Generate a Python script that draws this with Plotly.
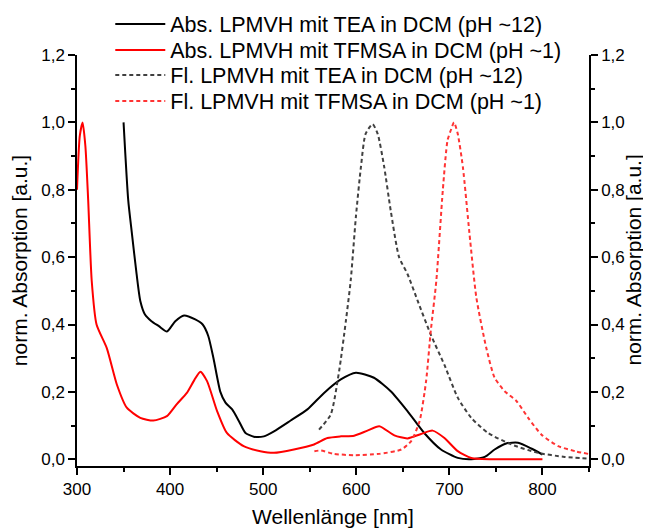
import plotly.graph_objects as go

# Abs. LPMVH mit TEA in DCM (pH ~12)
abs_tea_x = [350, 355, 359, 364, 368, 373, 380, 388, 396.6, 405.6, 415, 427, 435, 441, 446.6, 454, 459.5,
             466.7, 474, 481, 490, 500.8, 511.6, 529.5, 547.5, 565.4, 583.4, 599.6, 619, 637, 655, 673,
             691, 709, 723.5, 738, 748.6, 761, 773.8, 788, 800]
abs_tea_y = [1.0, 0.77, 0.67, 0.55, 0.47, 0.43, 0.41, 0.395, 0.379, 0.41, 0.427, 0.415, 0.40, 0.366, 0.30,
             0.20, 0.168, 0.148, 0.113, 0.078, 0.067, 0.068, 0.083, 0.115, 0.148, 0.197, 0.237, 0.257,
             0.242, 0.202, 0.143, 0.078, 0.029, 0.004, 0.0, 0.007, 0.029, 0.047, 0.049, 0.032, 0.014]

# Abs. LPMVH mit TFMSA in DCM (pH ~1)
abs_tfmsa_x = [300, 303, 306, 309, 312, 315.8, 321, 332, 342.8, 353.5, 368, 382, 396.6, 407, 418, 426,
               432.5, 439.7, 450.5, 461, 479, 497, 511.6, 533, 554.6, 569, 583.4, 597.7, 612, 624.7,
               640.9, 655, 669.6, 682, 694.7, 709, 723.5, 752, 800]
abs_tfmsa_y = [0.80, 0.96, 1.0, 0.93, 0.77, 0.53, 0.40, 0.33, 0.222, 0.153, 0.123, 0.115, 0.128, 0.163,
               0.197, 0.235, 0.26, 0.232, 0.143, 0.078, 0.039, 0.024, 0.019, 0.029, 0.044, 0.063, 0.068,
               0.070, 0.085, 0.098, 0.071, 0.062, 0.075, 0.085, 0.063, 0.024, 0.004, 0.0, 0.0]

# Fl. LPMVH mit TEA in DCM (pH ~12)
fl_tea_x = [560, 572.6, 581.6, 588.8, 594, 599.6, 605, 610, 617.5, 623, 630, 637, 646, 655, 666, 680,
            694.7, 709, 723.5, 741.5, 766.6, 795, 824, 849]
fl_tea_y = [0.088, 0.133, 0.262, 0.41, 0.53, 0.72, 0.868, 0.966, 0.995, 0.966, 0.868, 0.738, 0.60, 0.55,
            0.47, 0.37, 0.28, 0.183, 0.123, 0.078, 0.044, 0.019, 0.007, 0.002]

# Fl. LPMVH mit TFMSA in DCM (pH ~1)
fl_tfmsa_x = [555, 562, 576, 597.8, 624.7, 648.5, 659, 668, 675, 680, 686, 693, 698, 702, 705, 709,
              714.5, 721.6, 729, 739.7, 748.6, 759.4, 772, 784.6, 799, 817, 835, 849]
fl_tfmsa_y = [0.024, 0.026, 0.016, 0.012, 0.016, 0.029, 0.054, 0.113, 0.232, 0.38, 0.53, 0.80, 0.946,
              0.98, 1.0, 0.966, 0.868, 0.67, 0.48, 0.33, 0.242, 0.202, 0.173, 0.123, 0.073, 0.039,
              0.024, 0.016]

x_tickvals = [300, 400, 500, 600, 700, 800]
y_tickvals = [0.0, 0.2, 0.4, 0.6, 0.8, 1.0, 1.2]
y_title = "norm. Absorption [a.u.]"

FONT = "Liberation Sans, Arial, sans-serif"
H = 521

fig = go.Figure()
fig.add_trace(go.Scatter(x=abs_tea_x, y=abs_tea_y, mode="lines", legend="legend",
                         line=dict(color="black", width=2, shape="spline", smoothing=0.6),
                         name="Abs. LPMVH mit TEA in DCM (pH ~12)"))
fig.add_trace(go.Scatter(x=abs_tfmsa_x, y=abs_tfmsa_y, mode="lines", legend="legend2",
                         line=dict(color="#ff0000", width=2, shape="spline", smoothing=0.6),
                         name="Abs. LPMVH mit TFMSA in DCM (pH ~1)"))
fig.add_trace(go.Scatter(x=fl_tea_x, y=fl_tea_y, mode="lines", legend="legend3",
                         line=dict(color="#404040", width=2, dash="4px,3px", shape="spline", smoothing=0.6),
                         name="Fl. LPMVH mit TEA in DCM (pH ~12)"))
fig.add_trace(go.Scatter(x=fl_tfmsa_x, y=fl_tfmsa_y, mode="lines", legend="legend4",
                         line=dict(color="#ff3333", width=2, dash="4px,3px", shape="spline", smoothing=0.6),
                         name="Fl. LPMVH mit TFMSA in DCM (pH ~1)"))
fig.add_trace(go.Scatter(x=[None], y=[None], yaxis="y2", showlegend=False, hoverinfo="skip"))

axis_common = dict(showline=True, linecolor="black", linewidth=1.5, ticks="outside", ticklen=7,
                   tickwidth=1.5, tickcolor="black", showgrid=False, zeroline=False,
                   tickfont=dict(size=17, color="black", family=FONT))


def leg(row_center_px):
    return dict(x=0.065, xref="paper", y=1 - row_center_px / H, yref="container",
                xanchor="left", yanchor="middle", bgcolor="rgba(0,0,0,0)",
                font=dict(size=21.5, family=FONT, color="black"), itemwidth=50)


fig.update_layout(
    width=643, height=H,
    margin=dict(l=69, r=62, t=47, b=63, autoexpand=False),
    plot_bgcolor="white", paper_bgcolor="white",
    separators=",.",
    font=dict(family=FONT, color="black"),
    xaxis=dict(range=[300, 850], tickvals=x_tickvals,
               minor=dict(ticks="outside", dtick=50, ticklen=4, tickcolor="black", tickwidth=1.5),
               title=dict(text="Wellenlänge [nm]", font=dict(size=21, family=FONT), standoff=11),
               automargin=False, **axis_common),
    yaxis=dict(range=[-0.02, 1.2], tickvals=y_tickvals, tickformat=".1f",
               minor=dict(ticks="outside", dtick=0.1, ticklen=4, tickcolor="black", tickwidth=1.5),
               title=dict(text=y_title, font=dict(size=21, family=FONT), standoff=10),
               automargin=False, **axis_common),
    yaxis2=dict(range=[-0.02, 1.2], tickvals=y_tickvals, tickformat=".1f", overlaying="y", side="right",
                minor=dict(ticks="outside", dtick=0.1, ticklen=4, tickcolor="black", tickwidth=1.5),
                automargin=False, **axis_common),
    legend=leg(16), legend2=leg(42), legend3=leg(67), legend4=leg(93),
    showlegend=True,
)
fig.add_annotation(text=y_title, xref="paper", yref="paper", x=1.0 + 44 / 512, y=0.5,
                   xanchor="center", yanchor="middle", textangle=-90, showarrow=False,
                   font=dict(size=21, family=FONT, color="black"))

fig.write_html("out.html")
